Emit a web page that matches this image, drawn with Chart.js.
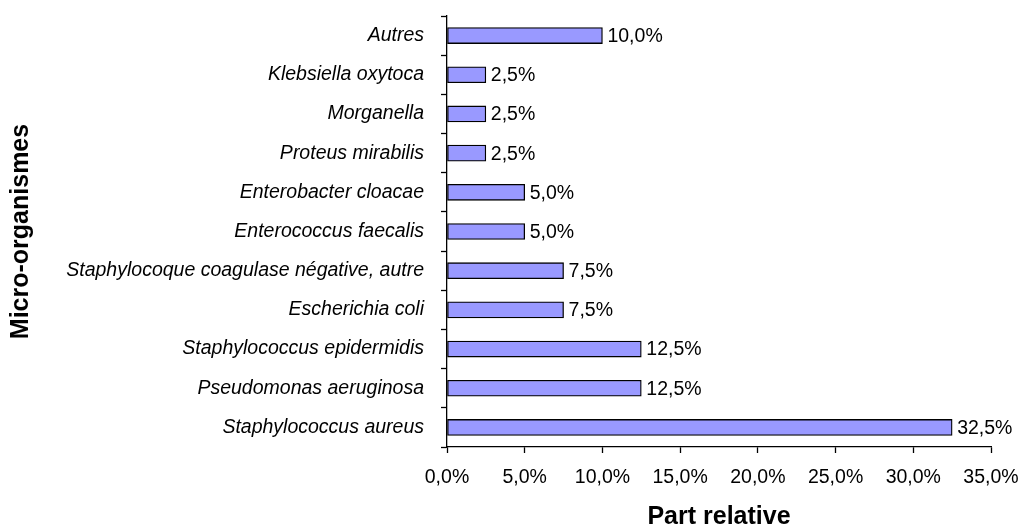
<!DOCTYPE html>
<html><head><meta charset="utf-8">
<script src="https://cdn.jsdelivr.net/npm/chart.js@4/dist/chart.umd.min.js"></script>
<style>html,body{margin:0;padding:0;background:#fff}#wrap{width:1019px;height:530px}</style>
</head><body><div id="wrap"><canvas id="c" width="1019" height="530"></canvas></div>
<script>
const categories = ["Autres","Klebsiella oxytoca","Morganella","Proteus mirabilis","Enterobacter cloacae","Enterococcus faecalis","Staphylocoque coagulase négative, autre","Escherichia coli","Staphylococcus epidermidis","Pseudomonas aeruginosa","Staphylococcus aureus"];
const values = [10.0, 2.5, 2.5, 2.5, 5.0, 5.0, 7.5, 7.5, 12.5, 12.5, 32.5];
const xTicks = [0, 5, 10, 15, 20, 25, 30, 35];
const xTitle = "Part relative";
const yTitle = "Micro-organismes";

const fmt = v => v.toFixed(1).replace('.', ',') + '%';
const FONT = "'Liberation Sans', Arial, sans-serif";

const labelPlugin = {
  id: 'valueLabels',
  afterDatasetsDraw(chart) {
    const ctx = chart.ctx;
    const meta = chart.getDatasetMeta(0);
    ctx.save();
    ctx.font = "19.5px " + FONT;
    ctx.fillStyle = '#000';
    ctx.textAlign = 'left';
    ctx.textBaseline = 'middle';
    meta.data.forEach((bar, i) => {
      ctx.fillText(fmt(values[i]), bar.x + 5, bar.y + 1);
    });
    ctx.restore();
  }
};

new Chart(document.getElementById('c'), {
  type: 'bar',
  data: {
    labels: categories,
    datasets: [{
      data: values,
      backgroundColor: '#9999FF',
      borderColor: '#000',
      borderWidth: 1.3,
      borderSkipped: false,
      barThickness: 16,
      categoryPercentage: 1.0
    }]
  },
  options: {
    indexAxis: 'y',
    responsive: false,
    animation: false,
    layout: { padding: { left: 0, right: 28, top: 16, bottom: 0 } },
    plugins: { legend: { display: false }, tooltip: { enabled: false } },
    scales: {
      x: {
        min: 0, max: 35,
        afterBuildTicks: s => { s.ticks = xTicks.map(v => ({ value: v })); },
        afterFit: s => { s.height = 83; s.paddingRight = 0; s.paddingLeft = 0; },
        ticks: { callback: v => fmt(v), color: '#000', font: { family: FONT, size: 19.5 }, padding: 13, maxRotation: 0 },
        grid: { drawOnChartArea: false, drawTicks: true, tickLength: 6, tickColor: '#000', tickWidth: 1.3 },
        border: { color: '#000', width: 1.3 },
        title: { display: true, text: xTitle, color: '#000', font: { family: FONT, size: 25, weight: 'bold', lineHeight: 1 }, padding: { top: 0, bottom: 0 } }
      },
      y: {
        afterFit: s => { s.width = 447; s.paddingTop = 0; s.paddingBottom = 0; },
        ticks: { color: '#000', font: { family: FONT, size: 19.5, style: 'italic' }, padding: 17 },
        grid: { drawOnChartArea: false, drawTicks: true, tickLength: 6, tickColor: '#000', tickWidth: 1.3, offset: true },
        border: { color: '#000', width: 1.3 },
        title: { display: true, text: yTitle, color: '#000', font: { family: FONT, size: 25, weight: 'bold', lineHeight: 1 }, padding: { top: 9, bottom: 0 } }
      }
    }
  },
  plugins: [labelPlugin]
});
</script></body></html>
